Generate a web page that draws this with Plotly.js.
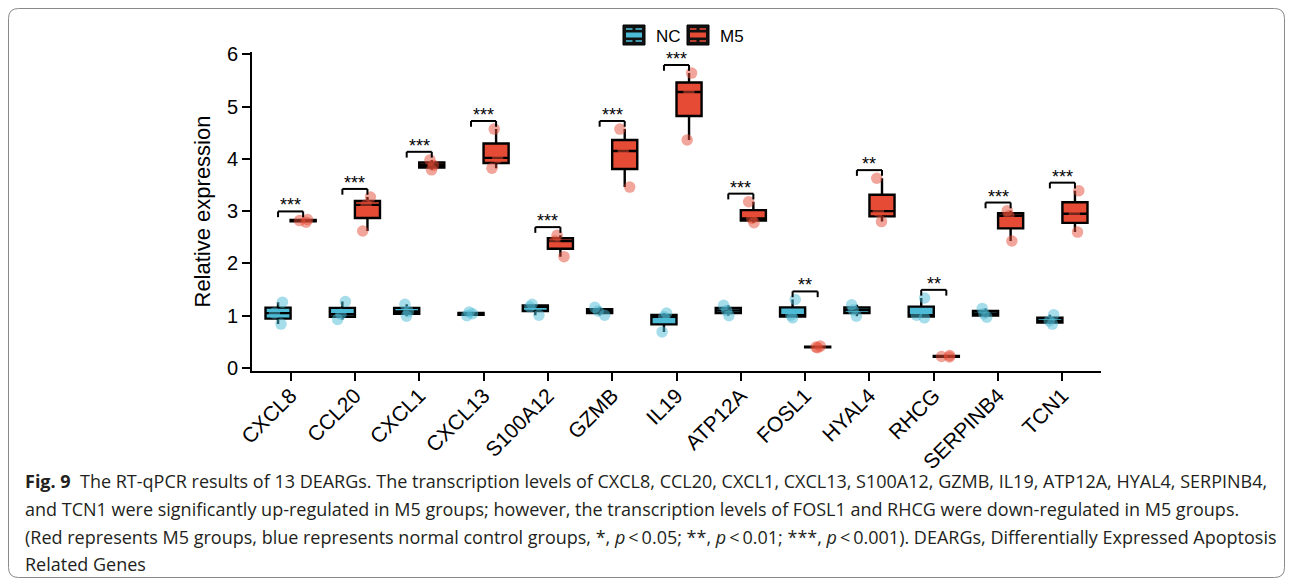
<!DOCTYPE html>
<html>
<head>
<meta charset="utf-8">
<script src="https://cdn.plot.ly/plotly-3.0.1.min.js"></script>
<style>
  html, body { margin: 0; padding: 0; background: #ffffff; }
  #chart { width: 1290px; height: 582px; }
</style>
</head>
<body>
<div id="chart"></div>
<script>
// ---------------- data ----------------
var genes = ['CXCL8','CCL20','CXCL1','CXCL13','S100A12','GZMB','IL19','ATP12A','FOSL1','HYAL4','RHCG','SERPINB4','TCN1'];
var ncValues = [
  [0.84, 1.05, 1.26],
  [0.93, 1.03, 1.27],
  [0.99, 1.08, 1.22],
  [1.00, 1.04, 1.07],
  [1.01, 1.17, 1.22],
  [1.01, 1.09, 1.16],
  [0.69, 0.98, 1.05],
  [1.00, 1.10, 1.20],
  [0.96, 1.01, 1.31],
  [0.99, 1.11, 1.21],
  [0.96, 1.01, 1.34],
  [0.97, 1.04, 1.14],
  [0.84, 0.90, 1.02]
];
var m5Values = [
  [2.79, 2.82, 2.84],
  [2.62, 3.12, 3.27],
  [3.79, 3.88, 3.98],
  [3.82, 4.02, 4.57],
  [2.13, 2.43, 2.54],
  [3.46, 4.15, 4.57],
  [4.36, 5.28, 5.64],
  [2.78, 2.86, 3.18],
  [0.39, 0.40, 0.42],
  [2.80, 3.00, 3.63],
  [0.21, 0.22, 0.24],
  [2.43, 2.91, 3.01],
  [2.60, 2.95, 3.39]
];
var signif = ['***','***','***','***','***','***','***','***','**','**','**','***','***'];
var groupNames = ['NC', 'M5'];
var yTicks = [0, 1, 2, 3, 4, 5, 6];
var TS = '\u2009';
var captionLines = [
  '<b>Fig. 9</b>  The RT-qPCR results of 13 DEARGs. The transcription levels of CXCL8, CCL20, CXCL1, CXCL13, S100A12, GZMB, IL19, ATP12A, HYAL4, SERPINB4,',
  'and TCN1 were significantly up-regulated in M5 groups; however, the transcription levels of FOSL1 and RHCG were down-regulated in M5 groups.',
  '(Red represents M5 groups, blue represents normal control groups, *, <i>p</i>' + TS + '<' + TS + '0.05; **, <i>p</i>' + TS + '<' + TS + '0.01; ***, <i>p</i>' + TS + '<' + TS + '0.001). DEARGs, Differentially Expressed Apoptosis',
  'Related Genes'
];

// ---------------- layout constants (pixels) ----------------
var W = 1290, H = 582;
var M = {l: 252, r: 189, t: 52, b: 211};
var plotW = W - M.l - M.r, plotH = H - M.t - M.b;
function px2paperX(p) { return (p - M.l) / plotW; }
function px2paperY(p) { return (H - M.b - p) / plotH; }

var RED = '#E64B35', BLUE = '#4DBBD5';
var RED_A = 'rgba(230,75,53,0.5)', BLUE_A = 'rgba(77,187,213,0.5)';

function flatX(vals) { var o = []; vals.forEach(function (v, i) { v.forEach(function () { o.push(genes[i]); }); }); return o; }
function flatY(vals) { var o = []; vals.forEach(function (v) { v.forEach(function (y) { o.push(y); }); }); return o; }

function boxTrace(name, vals, color, rgba) {
  return {
    type: 'box', name: name, x: flatX(vals), y: flatY(vals),
    boxpoints: 'all', jitter: 0.45, pointpos: 0,
    quartilemethod: 'inclusive',
    fillcolor: color,
    line: {color: '#000000', width: 2.4},
    whiskerwidth: 0,
    marker: {color: rgba, size: 11.5, line: {width: 0}},
    hoverinfo: 'y', showlegend: false
  };
}

var traces = [
  boxTrace(groupNames[0], ncValues, BLUE, BLUE_A),
  boxTrace(groupNames[1], m5Values, RED, RED_A)
];

// significance brackets
var shapes = [], annotations = [];
var half = 0.195, tip = 0.11, gapAbove = 0.155;
genes.forEach(function (g, i) {
  var all = ncValues[i].concat(m5Values[i]);
  var yb = Math.max.apply(null, all) + gapAbove;
  var x1 = i - half, x2 = i + half;
  var ln = {color: '#000000', width: 2};
  shapes.push({type: 'line', xref: 'x', yref: 'y', x0: x1, x1: x2, y0: yb, y1: yb, line: ln});
  shapes.push({type: 'line', xref: 'x', yref: 'y', x0: x1, x1: x1, y0: yb, y1: yb - tip, line: ln});
  shapes.push({type: 'line', xref: 'x', yref: 'y', x0: x2, x1: x2, y0: yb, y1: yb - tip, line: ln});
  annotations.push({
    xref: 'x', yref: 'y', x: i, y: yb, yanchor: 'bottom', xanchor: 'center',
    text: signif[i], showarrow: false, yshift: -6,
    font: {family: 'Liberation Sans, Arial, sans-serif', size: 18, color: '#000000'}
  });
});

// custom legend (ggplot-style box keys)
var legendItems = [
  {name: groupNames[0], color: BLUE, left: 623},
  {name: groupNames[1], color: RED, left: 687}
];
legendItems.forEach(function (it) {
  var l = it.left, r = it.left + 22, t = 25, b = 45, cy = 35;
  shapes.push({type: 'rect', xref: 'paper', yref: 'paper',
    x0: px2paperX(l), x1: px2paperX(r), y0: px2paperY(b), y1: px2paperY(t),
    fillcolor: '#111111', line: {color: '#000000', width: 1}});
  shapes.push({type: 'rect', xref: 'paper', yref: 'paper',
    x0: px2paperX(l + 3), x1: px2paperX(r - 3), y0: px2paperY(cy + 2.5), y1: px2paperY(cy - 2.5),
    fillcolor: it.color, line: {width: 0}});
  [[l + 3, l + 9.5], [l + 12.5, r - 3]].forEach(function (seg) {
    [t + 4, b - 4].forEach(function (yy) {
      shapes.push({type: 'line', xref: 'paper', yref: 'paper',
        x0: px2paperX(seg[0]), x1: px2paperX(seg[1]), y0: px2paperY(yy), y1: px2paperY(yy),
        line: {color: it.color, width: 1.6}});
    });
  });
  annotations.push({xref: 'paper', yref: 'paper', x: px2paperX(r + 9), y: px2paperY(36.5),
    xanchor: 'left', yanchor: 'middle', showarrow: false, text: it.name,
    font: {family: 'Liberation Sans, Arial, sans-serif', size: 17, color: '#000000'}});
});

// outer rounded frame
(function () {
  var x0 = px2paperX(8.5), x1 = px2paperX(1284.5), yT = px2paperY(8.5), yB = px2paperY(577.5);
  var rx = 10 / plotW, ry = 10 / plotH;
  var p = 'M ' + (x0 + rx) + ' ' + yT +
          ' L ' + (x1 - rx) + ' ' + yT +
          ' Q ' + x1 + ' ' + yT + ' ' + x1 + ' ' + (yT - ry) +
          ' L ' + x1 + ' ' + (yB + ry) +
          ' Q ' + x1 + ' ' + yB + ' ' + (x1 - rx) + ' ' + yB +
          ' L ' + (x0 + rx) + ' ' + yB +
          ' Q ' + x0 + ' ' + yB + ' ' + x0 + ' ' + (yB + ry) +
          ' L ' + x0 + ' ' + (yT - ry) +
          ' Q ' + x0 + ' ' + yT + ' ' + (x0 + rx) + ' ' + yT + ' Z';
  shapes.push({type: 'path', xref: 'paper', yref: 'paper', path: p, line: {color: '#8a8a8a', width: 1}, layer: 'below'});
})();

// caption
var capY = [481, 509, 537, 564];
captionLines.forEach(function (t, k) {
  annotations.push({
    xref: 'paper', yref: 'paper', x: px2paperX(23), y: px2paperY(capY[k]),
    xanchor: 'left', yanchor: 'middle', align: 'left', showarrow: false,
    text: t, font: {family: 'Open Sans, Lato, sans-serif', size: 18, color: '#231f20'}
  });
});

var layout = {
  width: W, height: H,
  margin: M,
  paper_bgcolor: '#ffffff', plot_bgcolor: '#ffffff',
  boxmode: 'group', boxgap: 0.22, boxgroupgap: 0,
  font: {family: 'Liberation Sans, Arial, sans-serif', color: '#000000'},
  showlegend: false,
  xaxis: {
    type: 'category', categoryorder: 'array', categoryarray: genes,
    range: [-0.6, 12.6],
    showline: true, linecolor: '#000000', linewidth: 2,
    ticks: 'outside', ticklen: 8, tickwidth: 2, tickcolor: '#000000',
    tickangle: -45, tickfont: {size: 21, color: '#000000'},
    ticklabelstandoff: -6,
    showgrid: false, zeroline: false
  },
  yaxis: {
    range: [-0.057, 6.044],
    tickmode: 'array', tickvals: yTicks, ticktext: yTicks.map(String),
    showline: true, linecolor: '#000000', linewidth: 2,
    ticks: 'outside', ticklen: 8, tickwidth: 2, tickcolor: '#000000',
    tickfont: {size: 20, color: '#000000'},
    showgrid: false, zeroline: false,
    title: {text: 'Relative expression', font: {size: 22, color: '#000000'}, standoff: 10}
  },
  shapes: shapes,
  annotations: annotations
};

Plotly.newPlot('chart', traces, layout, {displayModeBar: false, staticPlot: true});
</script>
</body>
</html>
